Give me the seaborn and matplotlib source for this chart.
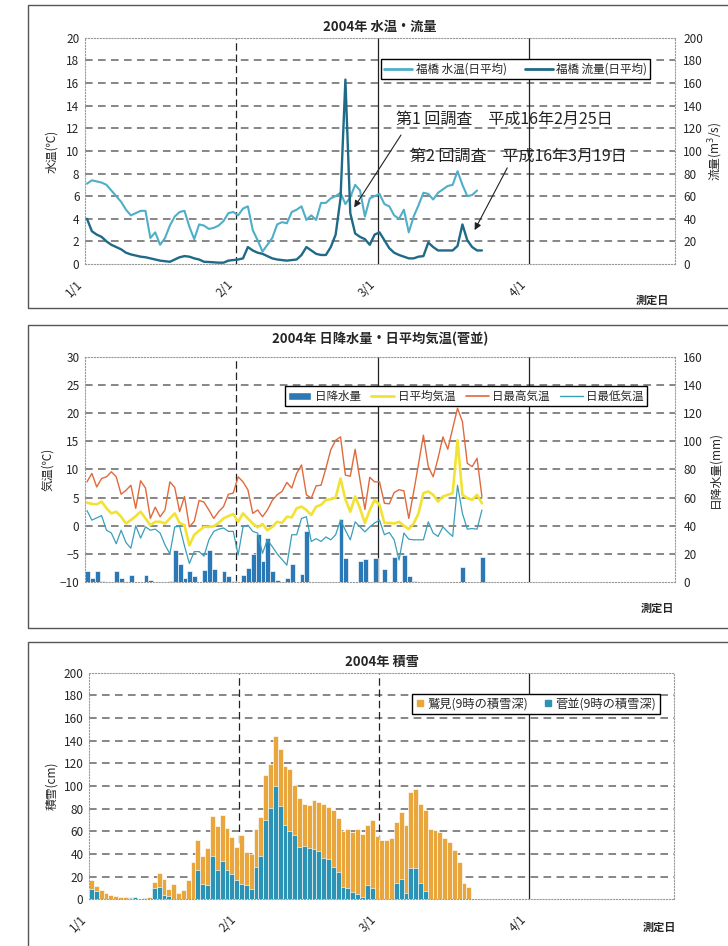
import numpy as np
import matplotlib
matplotlib.use('Agg')
import matplotlib.pyplot as plt
import seaborn as sns
from matplotlib.lines import Line2D
from matplotlib.patches import Patch, Rectangle

sns.set_style('white')
plt.rcParams['font.family'] = ['Noto Sans CJK JP', 'DejaVu Sans']

# eje x: dias desde 1/1 (2004, bisiesto)
dia_ticks = [0, 31, 60, 91]
dia_labels = ['1/1', '2/1', '3/1', '4/1']
dia_max = 121

# panel 1: 福橋 水温 (℃) y 流量 (m3/s), diarios desde 1/1
water_temp = [7.1, 7.4, 7.3, 7.2, 7.0, 6.5, 6.0, 5.5, 4.8, 4.3,
              4.5, 4.7, 4.7, 2.3, 2.8, 1.7, 2.3, 3.4, 4.2, 4.6,
              4.7, 3.3, 2.2, 3.5, 3.4, 3.1, 3.2, 3.4, 3.8, 4.5,
              4.6, 4.3, 4.9, 5.1, 3.0, 2.1, 1.1, 1.7, 2.3, 3.5,
              3.7, 3.6, 4.6, 4.8, 5.1, 3.9, 4.3, 3.9, 5.4, 5.4,
              5.8, 6.0, 6.3, 5.3, 5.9, 7.0, 6.5, 4.2, 5.8, 6.0,
              6.2, 5.3, 5.1, 4.3, 4.0, 4.8, 2.8, 4.2, 5.2, 6.3,
              6.2, 5.7, 6.3, 6.6, 6.9, 7.0, 8.2, 7.0, 6.0, 6.1,
              6.5]
flow = [40, 29, 26, 24, 20, 17, 15, 13, 10, 8.5,
        7.5, 6.5, 6, 5, 4, 3, 2.5, 2, 4, 6,
        7, 6.5, 5, 4, 2, 1.8, 1.5, 1.2, 1.2, 3,
        3.5, 4, 5, 15, 12, 10, 9, 7, 5, 4,
        3.5, 3, 3.5, 4, 8, 15, 12, 9, 8, 8,
        15, 26, 58, 163, 45, 27, 24, 22, 17, 26,
        28, 21, 14, 10, 8, 6.5, 5, 5, 6.5, 7,
        19, 15, 12, 12, 12, 12, 16, 35, 21, 15,
        12, 12]

# panel 2: 菅並 気温 (℃) y 日降水量 (mm)
max_temp = [7.8, 9.3, 6.9, 8.4, 8.7, 9.6, 8.7, 5.6, 6.3, 7.2,
            3.1, 8.0, 6.7, 1.3, 3.3, 1.6, 2.8, 7.8, 6.8, 2.5,
            5.2, -0.2, 0.8, 4.5, 4.2, 2.8, 1.3, 2.5, 3.4, 5.6,
            5.8, 8.7, 7.8, 6.4, 2.2, 2.8, 1.6, 2.8, 4.5, 5.5,
            6.1, 7.7, 6.7, 9.3, 10.8, 5.5, 4.9, 7.1, 7.2, 10.2,
            13.5, 15.2, 15.8, 9.0, 8.8, 13.6, 8.1, 2.9, 8.6, 7.8,
            7.8, 4.0, 3.9, 5.9, 6.4, 6.2, 1.3, 6.0, 11.0, 16.1,
            10.5, 8.7, 12.0, 15.8, 13.6, 17.3, 20.9, 18.5, 11.1, 10.5,
            12.0, 5.2]
mean_temp = [4.1, 3.9, 3.8, 4.3, 3.1, 2.2, 2.5, 1.6, 0.4, 1.0,
             1.7, 2.5, 1.3, 0.1, 0.7, 0.7, 0.4, 1.3, 2.2, 0.5,
             0.1, -3.5, -1.6, -0.9, -0.2, -0.2, -0.1, 0.5, 1.3, 1.7,
             2.1, 0.7, 2.2, 1.3, 0.4, -0.3, 0.3, -0.8, -0.2, 0.7,
             0.5, 1.6, 1.5, 3.1, 3.4, 2.8, 1.9, 3.4, 3.7, 4.6,
             4.7, 5.0, 8.4, 4.7, 2.5, 5.2, 3.1, 0.5, 2.8, 4.6,
             3.7, 0.5, 0.5, 0.4, 0.7, 0.0, -0.6, 0.4, 2.2, 5.8,
             6.1, 5.5, 4.3, 5.2, 5.5, 5.8, 15.2, 5.5, 4.9, 4.6,
             5.5, 4.0]
min_temp = [2.7, 1.0, 1.4, 1.8, -0.8, -1.3, -3.2, -0.8, -3.0, -4.0,
            0.0, -2.2, -0.2, -0.8, -0.6, -1.3, -3.4, -5.0, -0.2, -0.1,
            -3.6, -6.7, -4.6, -4.6, -5.4, -2.5, -1.0, -0.6, -0.4, -1.0,
            -1.0, -5.2, -0.2, 0.1, -1.0, -1.3, -4.9, -2.5, -3.7, -5.0,
            -6.0, -7.0, -1.6, -1.6, 1.3, 1.6, -2.8, -2.3, -2.8, -2.0,
            -2.5, -1.6, 1.0, -0.8, -2.5, 0.7, -0.2, -1.1, -0.2, 0.5,
            1.0, -1.6, -1.2, -2.5, -6.1, -1.3, -2.4, -2.5, -2.5, -2.5,
            0.7, -1.3, -1.9, -0.2, -1.1, -1.9, 7.2, 2.2, -0.6, -0.5,
            -0.6, 2.8]
rain_day = [0, 1, 2, 3, 6, 7, 9, 12, 13, 17, 18, 19, 20, 21, 22, 24, 25, 26,
            28, 29, 30, 32, 33, 34, 35, 36, 37, 38, 39, 41, 42, 44, 45, 52,
            53, 56, 57, 59, 61, 63, 65, 66, 67, 77, 81]
rain_mm = [8, 2.5, 8, 1, 8, 3, 5, 5, 1.5, 1, 23, 13, 3, 8, 4, 8.5, 23, 9,
           8, 4.5, 1, 5, 10, 20, 34, 15, 31.5, 8, 1.5, 3, 13, 6, 36, 44.5,
           17, 15, 16.5, 17, 9, 18, 19.5, 4, 1, 11, 18]

# panel 3: 積雪深 (cm) a las 9h
snow_washimi = [16.9, 11.6, 8.6, 5.9, 4.1, 3.3, 2.4, 2.4, 2.0, 2.0,
                0.6, 1.0, 2.0, 15.4, 22.8, 17.8, 8.9, 13.3, 5.9, 8.6,
                16.9, 32.6, 51.9, 38.2, 45.6, 73.2, 64.9, 74.4, 62.8, 54.8,
                46.5, 56.9, 41.5, 40.0, 61.9, 72.6, 109.3, 119.1, 143.7, 133.0,
                117.6, 114.7, 101.3, 89.5, 84.4, 83.6, 87.4, 85.6, 84.1, 81.5,
                79.1, 71.7, 60.7, 61.9, 59.0, 61.8, 58.0, 65.6, 70.0, 55.9,
                52.4, 52.4, 53.8, 68.5, 77.4, 65.6, 95.0, 97.4, 83.8, 78.8,
                61.8, 61.2, 59.7, 53.8, 50.9, 43.5, 33.2, 14.1, 11.2]
snow_sugenami = [8.9, 7.4, 0.6, 0, 0, 0, 0, 0.6, 1.5, 2.0,
                 0, 1.0, 0, 10.0, 11.0, 4.1, 3.0, 0, 0, 0,
                 0, 0, 25.8, 13.9, 13.0, 38.2, 25.8, 33.8, 25.8, 22.2,
                 16.9, 13.9, 12.4, 9.5, 28.7, 38.2, 70.2, 80.6, 99.9, 82.7,
                 65.8, 60.4, 56.9, 46.5, 47.1, 45.0, 44.4, 43.0, 36.1, 35.3,
                 28.1, 24.3, 11.0, 10.0, 6.5, 5.0, 2.0, 12.6, 9.7, 0,
                 0, 0, 0, 14.0, 17.9, 5.3, 27.4, 27.4, 14.0, 7.4]

c_temp = '#4FAEC8'
c_flow = '#1E6A88'
c_rain = '#2A78B5'
c_mean = '#F2E234'
c_max = '#E06A3C'
c_min = '#3A9FBA'
c_washimi = '#E8A63C'
c_sugenami = '#2C93B4'
c_grid = '#666666'
fs = 8.5


def estilo(ax, yticks, estilos_v, grid_ax=None):
    g = grid_ax if grid_ax is not None else ax
    ax.set_xlim(0, dia_max)
    ax.set_ylim(yticks[0], yticks[-1])
    ax.set_yticks(yticks)
    ax.set_xticks(dia_ticks)
    ax.set_xticklabels(dia_labels, rotation=45, ha='right', va='top')
    ax.tick_params(axis='x', length=0, pad=10, labelsize=fs)
    ax.tick_params(axis='y', length=0, pad=4, labelsize=fs)
    for s in ax.spines.values():
        s.set_color('#9a9a9a')
        s.set_linewidth(0.8)
        s.set_linestyle(':')
    gy = g.get_yticks()
    for y in gy[1:-1]:
        g.axhline(y, color=c_grid, lw=1.1, ls=(0, (5, 3.5)), zorder=0.5)
    for x, ls in zip(dia_ticks[1:], estilos_v):
        g.axvline(x, color='#222222', lw=0.9, ls=ls, zorder=0.6)


fig = plt.figure(figsize=(7.28, 9.46), dpi=100)

for y0 in [0.6744, 0.3362, -0.01]:
    h = 0.3203 if y0 > 0 else 0.3314
    fig.add_artist(Rectangle((0.0385, y0), 0.97, h, transform=fig.transFigure,
                             fill=False, ec='#555555', lw=1.0))

dash = (0, (6, 3))
# barras con un filo blanco fino entre dias, como en el original
barras = dict(native_scale=True, width=1.0, saturation=1, errorbar=None,
              linewidth=0.45, edgecolor='white')

# ---------- panel 1 ----------
ax1 = fig.add_axes([0.1168, 0.7209, 0.8104, 0.2392])
ax1b = ax1.twinx()
x_t = np.arange(len(water_temp)) + 0.4
x_f = np.arange(len(flow)) + 0.4
sns.lineplot(x=x_t, y=water_temp, ax=ax1, color=c_temp, lw=1.5, zorder=3)
sns.lineplot(x=x_f, y=flow, ax=ax1b, color=c_flow, lw=1.7, zorder=3)
estilo(ax1, list(range(0, 21, 2)), [dash, '-', '-'])
ax1b.set_ylim(0, 200)
ax1b.set_yticks(range(0, 201, 20))
ax1b.tick_params(length=0, pad=6, labelsize=fs)
for s in ax1b.spines.values():
    s.set_visible(False)
ax1.set_ylabel('水温(℃)', fontsize=8.5, labelpad=6)
ax1b.set_ylabel('流量(m$^3$/s)', fontsize=8.5, labelpad=2)
ax1.set_title('2004年 水温・流量', fontsize=9.5, fontweight='bold', pad=5)
h1 = [Line2D([], [], color=c_temp, lw=2), Line2D([], [], color=c_flow, lw=2)]
ax1b.legend(h1, ['福橋 水温(日平均)', '福橋 流量(日平均)'], ncol=2, loc='upper right',
            bbox_to_anchor=(0.968, 0.93), fancybox=False, edgecolor='black',
            fontsize=8.3, handlelength=2.4, columnspacing=1.6, borderpad=0.3,
            handletextpad=0.3, framealpha=1)
flecha = dict(arrowstyle='-|>', color='#222222', lw=0.8, mutation_scale=10,
              shrinkA=0, shrinkB=0)
ax1.annotate('第1 回調査\u3000平成16年2月25日', xy=(55.2, 5.0), xytext=(63.7, 12.8),
             fontsize=11.5, va='center', ha='left', color='#222222')
ax1.annotate('', xy=(55.2, 5.0), xytext=(64.8, 11.4), arrowprops=flecha)
ax1.annotate('第2 回調査\u3000平成16年3月19日', xy=(79.9, 3.0), xytext=(66.7, 9.55),
             fontsize=11.5, va='center', ha='left', color='#222222')
ax1.annotate('', xy=(79.9, 3.0), xytext=(86.6, 8.5), arrowprops=flecha)
fig.text(652 / 728, 1 - 300 / 946, '測定日', fontsize=8, fontweight='bold',
         ha='center', va='center')

# ---------- panel 2 ----------
ax2 = fig.add_axes([0.1168, 0.3848, 0.8104, 0.2378])
ax2b = ax2.twinx()
sns.barplot(x=np.array(rain_day) + 0.5, y=rain_mm, ax=ax2b, color=c_rain,
            zorder=2, **barras)
ax2b.set_ylim(0, 160)
ax2b.set_yticks(range(0, 161, 20))
ax2b.set_xlim(0, dia_max)
ax2b.tick_params(length=0, pad=6, labelsize=fs)
for s in ax2b.spines.values():
    s.set_visible(False)
for y in range(20, 141, 20):
    ax2b.axhline(y, color=c_grid, lw=1.1, ls=(0, (5, 3.5)), zorder=0.5)
for x, ls in zip(dia_ticks[1:], [dash, '-', '-']):
    ax2b.axvline(x, color='#222222', lw=0.9, ls=ls, zorder=0.6)
ax2.set_zorder(ax2b.get_zorder() + 1)
ax2.patch.set_visible(False)
x_d = np.arange(len(mean_temp)) + 0.4
sns.lineplot(x=x_d, y=mean_temp, ax=ax2, color=c_mean, lw=1.9)
sns.lineplot(x=x_d, y=max_temp, ax=ax2, color=c_max, lw=1.0)
sns.lineplot(x=x_d, y=min_temp, ax=ax2, color=c_min, lw=0.9)
ax2.set_xlim(0, dia_max)
ax2.set_ylim(-10, 30)
ax2.set_yticks(range(-10, 31, 5))
ax2.set_xticks(dia_ticks)
ax2.set_xticklabels(dia_labels, rotation=45, ha='right', va='top')
ax2.tick_params(axis='x', length=0, pad=10, labelsize=fs)
ax2.tick_params(axis='y', length=0, pad=4, labelsize=fs)
for s in ax2.spines.values():
    s.set_color('#9a9a9a')
    s.set_linewidth(0.8)
    s.set_linestyle(':')
ax2b.set_xticks([])
ax2.set_ylabel('気温(℃)', fontsize=8.5, labelpad=4)
ax2b.set_ylabel('日降水量(mm)', fontsize=8.5, labelpad=4)
ax2.set_title('2004年 日降水量・日平均気温(菅並)', fontsize=9.5, fontweight='bold', pad=10)
h2 = [Patch(facecolor=c_rain), Line2D([], [], color=c_mean, lw=2),
      Line2D([], [], color=c_max, lw=1.2), Line2D([], [], color=c_min, lw=1.0)]
ax2.legend(h2, ['日降水量', '日平均気温', '日最高気温', '日最低気温'], ncol=4,
           loc='upper right', bbox_to_anchor=(0.963, 0.895), fancybox=False,
           edgecolor='black', fontsize=8.3, handlelength=2.0, columnspacing=0.9,
           borderpad=0.3, handletextpad=0.3, framealpha=1)
fig.text(657 / 728, 1 - 608 / 946, '測定日', fontsize=8, fontweight='bold',
         ha='center', va='center')

# ---------- panel 3 ----------
ax3 = fig.add_axes([0.1223, 0.0494, 0.8042, 0.2395])
sns.barplot(x=np.arange(len(snow_washimi)) + 0.5, y=snow_washimi, ax=ax3,
            color=c_washimi, zorder=2, **barras)
sns.barplot(x=np.arange(len(snow_sugenami)) + 0.5, y=snow_sugenami, ax=ax3,
            color=c_sugenami, zorder=3, **barras)
estilo(ax3, list(range(0, 201, 20)), [dash, dash, '-'])
ax3.set_ylabel('積雪(cm)', fontsize=8.5, labelpad=4)
ax3.set_title('2004年 積雪', fontsize=9.5, fontweight='bold', pad=5)
h3 = [Line2D([], [], color=c_washimi, marker='s', ls='none', ms=5),
      Line2D([], [], color=c_sugenami, marker='s', ls='none', ms=5)]
ax3.legend(h3, ['鷲見(9時の積雪深)', '菅並(9時の積雪深)'], ncol=2, loc='upper right',
           bbox_to_anchor=(0.985, 0.935), fancybox=False, edgecolor='black',
           fontsize=8.8, handlelength=0.8, columnspacing=1.2, borderpad=0.3,
           handletextpad=0.2, framealpha=1)
fig.text(659 / 728, 1 - 927 / 946, '測定日', fontsize=8, fontweight='bold',
         ha='center', va='center')

fig.savefig('out.png', dpi=100)
